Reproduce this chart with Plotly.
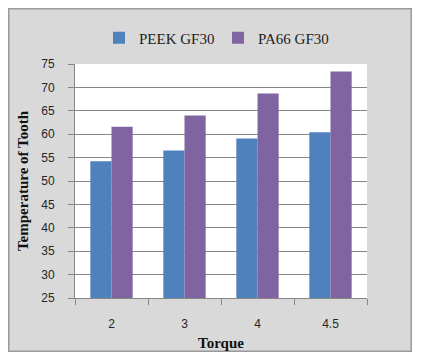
import plotly.graph_objects as go

categories = ["2", "3", "4", "4.5"]
peek_values = [54.2, 56.5, 59.1, 60.4]
pa66_values = [61.6, 64.0, 68.7, 73.4]
series_names = ["PEEK GF30", "PA66 GF30"]
y_ticks = [25, 30, 35, 40, 45, 50, 55, 60, 65, 70, 75]

# The page body has an 8px margin, so the figure starts at page (8, 8).
W, H = 404, 344
L, R, T, B = 67, 45, 56, 54

fig = go.Figure()
fig.add_trace(go.Bar(x=categories, y=peek_values, name=series_names[0],
                     marker=dict(color="#4f81bd", line=dict(width=0))))
fig.add_trace(go.Bar(x=categories, y=pa66_values, name=series_names[1],
                     marker=dict(color="#8064a2", line=dict(width=0))))

pw, ph = W - L - R, H - T - B
shapes = [dict(type="rect", xref="paper", yref="paper", layer="above",
               x0=(0.75 - L) / pw, x1=(W - 0.75 - L) / pw,
               y0=-(B - 0.75) / ph, y1=(H - B - 0.75) / ph,
               fillcolor="rgba(0,0,0,0)", line=dict(color="#9a9a9a", width=1.5))]

fig.update_layout(
    width=W, height=H,
    margin=dict(l=L, r=R, t=T, b=B, pad=0, autoexpand=False),
    paper_bgcolor="#d9d9d9",
    plot_bgcolor="white",
    barmode="group",
    bargap=0.42,
    bargroupgap=0,
    showlegend=True,
    legend=dict(orientation="h", xref="container", yref="container",
                x=91 / W, xanchor="left", y=1 - 30 / H, yanchor="middle",
                font=dict(family="Liberation Serif", size=15, color="#222"),
                bgcolor="rgba(0,0,0,0)", itemwidth=30, traceorder="normal",
                entrywidth=74, entrywidthmode="pixels"),
    xaxis=dict(type="category", showline=True, linecolor="#868686", linewidth=1,
               ticks="outside", tickson="boundaries", ticklen=6, tickcolor="#868686",
               ticklabelstandoff=15, automargin=False,
               tickfont=dict(family="Liberation Sans", size=12, color="#262626"),
               title=dict(text="<b>Torque</b>", standoff=7,
                          font=dict(family="Liberation Serif", size=15, color="#111")),
               showgrid=False, fixedrange=True),
    yaxis=dict(range=[25, 75], tickvals=y_ticks, showline=True, linecolor="#868686",
               linewidth=1, ticks="outside", ticklen=6, tickcolor="#868686",
               ticklabelstandoff=11, automargin=False,
               tickfont=dict(family="Liberation Sans", size=12, color="#262626"),
               showgrid=True, gridcolor="#868686", gridwidth=1, zeroline=False,
               title=dict(text="<b>Temperature of Tooth</b>", standoff=8,
                          font=dict(family="Liberation Serif", size=15, color="#111")),
               fixedrange=True),
    shapes=shapes,
)

fig.write_html("out.html")
